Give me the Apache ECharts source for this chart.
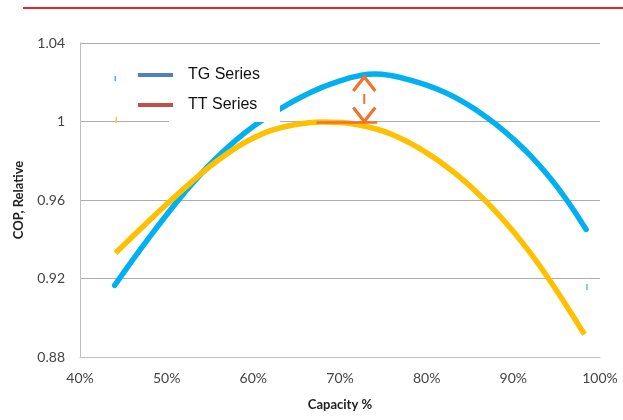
<!DOCTYPE html>
<html>
<head>
<meta charset="utf-8">
<script src="https://cdn.jsdelivr.net/npm/echarts@6/dist/echarts.min.js"></script>
<style>
html,body{margin:0;padding:0;background:#fff;}
#chart{width:623px;height:420px;}
</style>
</head>
<body>
<div id="chart"></div>
<script>
// ---- data ----
const tgCapacity = [44, 46, 48, 50, 52, 54, 56, 58, 60, 62, 64, 66, 68, 70, 72, 74, 76, 78, 80, 82, 84, 86, 88, 90, 92, 94, 96, 98.4];
const tgCop      = [0.9165, 0.929, 0.941, 0.9525, 0.9635, 0.9735, 0.9825, 0.9905, 0.9975, 1.0035, 1.0088, 1.0135, 1.0175, 1.0207, 1.0231, 1.0242, 1.0233, 1.0212, 1.0185, 1.015, 1.0105, 1.005, 0.9985, 0.991, 0.9825, 0.9725, 0.961, 0.945];
const ttCapacity = [44.1, 46, 48, 50, 52, 54, 56, 58, 60, 62, 64, 66, 68, 70, 72, 74, 76, 78, 80, 82, 84, 86, 88, 90, 92, 94, 96, 98.2];
const ttCop      = [0.933, 0.9411, 0.9495, 0.9578, 0.9658, 0.9735, 0.9805, 0.9866, 0.9916, 0.9953, 0.9977, 0.9991, 0.9997, 0.9995, 0.9984, 0.9964, 0.9934, 0.9892, 0.984, 0.978, 0.971, 0.963, 0.954, 0.944, 0.9328, 0.9204, 0.907, 0.8915];
const seriesNames = ['TG Series', 'TT Series'];
const xTicks = [40, 100, 10];          // min, max, interval (Capacity %)
const yTicks = [0.88, 1.04, 0.04];     // min, max, interval (COP, Relative)
// gap annotation: vertical double arrow at TG peak, horizontal reference at TT peak
const arrowCapacity = [72.8];
const arrowRange = [1.0227, 1.0];
const refLineCapacity = [67.3, 74.3];
const refLineCop = [0.9995];

const zip = (xs, ys) => xs.map((x, i) => [x, ys[i]]);

const chart = echarts.init(document.getElementById('chart'));
const FONT = 'Lato';
const option = {
  animation: false,
  backgroundColor: '#fff',
  grid: { left: 80, right: 23, top: 43, bottom: 63 },
  legend: {
    left: 133, top: 61,
    orient: 'vertical',
    itemWidth: 35, itemHeight: 4, itemGap: 12,
    icon: 'rect',
    selectedMode: false,
    textStyle: { fontFamily: 'Liberation Sans', fontSize: 16, lineHeight: 18, color: '#111', padding: [0, 0, 0, 10] },
    data: [
      { name: seriesNames[0], itemStyle: { color: '#4F81BD' } },
      { name: seriesNames[1], itemStyle: { color: '#C0504D' } }
    ]
  },
  xAxis: {
    type: 'value', min: xTicks[0], max: xTicks[1], interval: xTicks[2],
    name: 'Capacity %', nameLocation: 'middle', nameGap: 41,
    nameTextStyle: { fontFamily: FONT, fontWeight: 'bold', fontSize: 13, color: '#222' },
    axisLine: { show: true, lineStyle: { color: '#BFBFBF', width: 1 } },
    axisTick: { show: false },
    splitLine: { show: false },
    axisLabel: { formatter: '{value}%', fontFamily: FONT, fontSize: 14, color: '#444', margin: 14 }
  },
  yAxis: {
    type: 'value', min: yTicks[0], max: yTicks[1], interval: yTicks[2],
    name: 'COP, Relative', nameLocation: 'middle', nameGap: 55, nameRotate: 90,
    nameTextStyle: { fontFamily: FONT, fontWeight: 'bold', fontSize: 13, color: '#222' },
    axisLine: { show: true, lineStyle: { color: '#BFBFBF', width: 1 } },
    axisTick: { show: false },
    splitLine: { show: true, lineStyle: { color: '#ADADAD', width: 1 } },
    axisLabel: { formatter: v => String(+v.toFixed(2)), fontFamily: FONT, fontSize: 14, color: '#444', margin: 15 }
  },
  graphic: [
    { type: 'line', z: 10, shape: { x1: 23, y1: 8, x2: 623, y2: 8 }, style: { stroke: '#E3262B', lineWidth: 2 } },
    { type: 'rect', z: 3, shape: { x: 130, y: 52, width: 173, height: 41 }, style: { fill: '#fff' } },
    { type: 'rect', z: 3, shape: { x: 169, y: 93, width: 111, height: 29 }, style: { fill: '#fff' } },
    { type: 'rect', z: 4, shape: { x: 114.5, y: 76, width: 1.5, height: 5 }, style: { fill: '#3FB6E8' } },
    { type: 'rect', z: 4, shape: { x: 115.5, y: 117, width: 1.5, height: 6 }, style: { fill: '#F7C65A' } },
    { type: 'rect', z: 4, shape: { x: 586, y: 284, width: 2, height: 6 }, style: { fill: '#7FD0F2' } }
  ],
  series: [
    {
      name: seriesNames[0], type: 'line', smooth: true, showSymbol: false, z: 2,
      data: zip(tgCapacity, tgCop),
      lineStyle: { color: '#00B0F0', width: 5.5, cap: 'round' },
      itemStyle: { color: '#00B0F0' }
    },
    {
      name: seriesNames[1], type: 'line', smooth: true, showSymbol: false, z: 2,
      data: zip(ttCapacity, ttCop),
      lineStyle: { color: '#FFC000', width: 5.5, cap: 'butt' },
      itemStyle: { color: '#FFC000' }
    },
    {
      name: 'gap', type: 'custom', z: 5, silent: true,
      data: [[arrowCapacity[0], arrowRange[0], arrowRange[1], refLineCapacity[0], refLineCapacity[1], refLineCop[0]]],
      renderItem: (params, api) => {
        const top = api.coord([api.value(0), api.value(1)]);
        const bot = api.coord([api.value(0), api.value(2)]);
        const r0 = api.coord([api.value(3), api.value(5)]);
        const r1 = api.coord([api.value(4), api.value(5)]);
        const c = '#F2712B';
        const hw = 11, hh = 14;
        return {
          type: 'group',
          children: [
            { type: 'line', shape: { x1: r0[0], y1: r0[1], x2: r1[0], y2: r1[1] }, style: { stroke: c, lineWidth: 2.5 } },
            { type: 'polyline', shape: { points: [[top[0] - hw, top[1] + hh], [top[0], top[1]], [top[0] + hw, top[1] + hh]] }, style: { stroke: c, lineWidth: 3.2, fill: null } },
            { type: 'polyline', shape: { points: [[bot[0] - hw, bot[1] - hh], [bot[0], bot[1]], [bot[0] + hw, bot[1] - hh]] }, style: { stroke: c, lineWidth: 3.2, fill: null } },
            { type: 'line', shape: { x1: top[0], y1: top[1] + 17, x2: bot[0], y2: bot[1] - 17 }, style: { stroke: c, lineWidth: 2, lineDash: [10, 4] } }
          ]
        };
      }
    }
  ]
};
chart.setOption(option);
</script>
</body>
</html>
